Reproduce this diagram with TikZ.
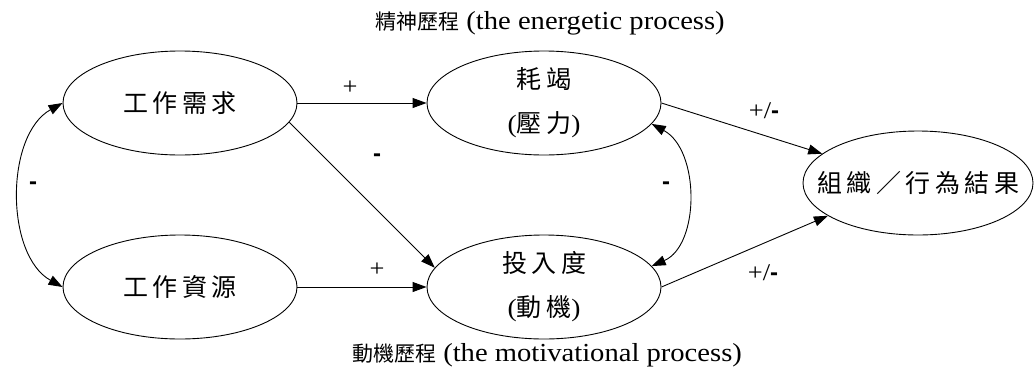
\documentclass[tikz,border=0pt]{standalone}
\usepackage{fontspec}
\setmainfont{Liberation Serif}[FakeStretch=1.1]
\newfontfamily\cjk{Noto Sans CJK TC}
\newfontfamily\dashfont{Liberation Sans}
\usetikzlibrary{shapes.geometric,arrows.meta}
\newcommand{\cg}{\hspace{4.5pt}}
\newcommand{\lp}{{\rmfamily(}}
\newcommand{\rp}{{\rmfamily)}}
\newcommand{\mn}{{\dashfont\bfseries -}}
\begin{document}
\begin{tikzpicture}[x=1pt,y=-1pt,
  ell/.style={draw, ellipse, line width=0.9pt, minimum width=234pt, minimum height=104pt,
    inner sep=0pt, font=\fontsize{25}{44}\selectfont\cjk, align=center},
  arr/.style={line width=0.9pt, -{Triangle[length=14pt,width=10pt]}},
  barr/.style={line width=0.9pt, {Triangle[length=14pt,width=10pt]}-{Triangle[length=14pt,width=10pt]}},
  lab/.style={font=\fontsize{24}{24}\selectfont, inner sep=0pt},
  capt/.style={font=\fontsize{26}{26}\selectfont, inner sep=0pt}]
\useasboundingbox (0,0) rectangle (1035,378);
\node[ell] (jd) at (180,103) {工\cg 作\cg 需\cg 求};
\node[ell] (jr) at (180,287) {工\cg 作\cg 資\cg 源};
\node[ell] (bo) at (544,103) {耗\cg 竭\\\lp 壓\cg 力\rp};
\node[ell] (en) at (544,287) {投\cg 入\cg 度\\\lp 動\cg 機\rp};
\node[ell, minimum width=230pt] (out) at (918,183) {\makebox[0pt]{組\cg 織\cg ／\cg 行\cg 為\cg 結\cg 果}};
\node[capt] (ct) at (550,23) {{\cjk\fontsize{21}{21}\selectfont 精神歷程} (the energetic process)};
\node[capt] (cb) at (547,355) {{\cjk\fontsize{21}{21}\selectfont 動機歷程} (the motivational process)};
\draw[arr] (jd.east) -- (bo.west);
\draw[arr] (jd.-10) -- (en.170);
\draw[arr] (jr.east) -- (en.west);
\draw[barr] (jd.west) .. controls (5,135) and (5,255) .. (jr.west);
\draw[barr] (bo.-11) .. controls (700,150) and (700,245) .. (en.11);
\draw[arr] (bo.east) -- (out.163);
\draw[arr] (en.east) -- (out.-160);
\node[lab] (l1) at (350,88) {+};
\node[lab] (l3) at (377,270) {+};
\node[lab] (l2) at (377,158) {\mn};
\node[lab] (l4) at (33,186) {\mn};
\node[lab] (l5) at (666,186) {\mn};
\node[lab] (l6) at (764,111) {+/\mn};
\node[lab] (l7) at (763,273) {+/\mn};
\end{tikzpicture}
\end{document}
